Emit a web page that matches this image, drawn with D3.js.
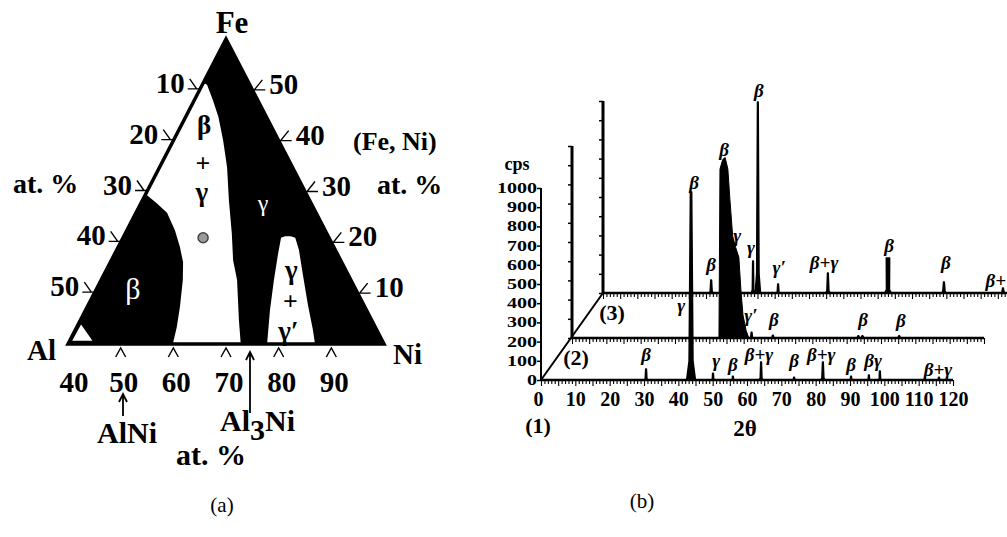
<!DOCTYPE html>
<html><head><meta charset="utf-8">
<script src="https://cdn.jsdelivr.net/npm/d3@7"></script>
<style>body{margin:0;background:#fff}svg{display:block}text{font-family:"Liberation Serif","Times New Roman",serif}</style>
</head><body><script>
// ================= DATA : (a) partial ternary diagram (n = bottom-axis at.%, f = Fe at.%) =================
const bottomTicks = [40, 50, 60, 70, 80, 90];
const leftTicks = [10, 20, 30, 40, 50];
const rightTicks = [10, 20, 30, 40, 50];
const gammaBoundary = [[40.2,51.3],[40.9,51],[43.5,48],[46.2,44.7],[49.4,40.1],[52.8,34.8],[56.4,28.3],[60.2,21.8],[63.1,16.5],[65.8,12.6],[70.1,4.7],[72.8,0]];
const gammaPrimeRegion = [[77.8,0],[75.0,6.7],[72.8,12.6],[71.1,17.5],[70.0,20.9],[70.6,21.2],[71.7,21.2],[72.7,20.9],[74.6,18.5],[77.8,13.6],[81.7,7.7],[85.1,2.8],[86.9,0]];
const betaBoundary = [[40,29.7],[40.3,29.3],[43.0,27.7],[45.9,25.8],[49.1,22.4],[51.7,19.1],[53.8,16.1],[55.5,12.6],[57.6,7.3],[59.0,3.3],[59.9,0]];
const cornerGap = [[40.3,4.3],[40.2,0.4],[44.9,0.4]];
const samplePoint = [55.2, 20.9];
const labelsOnWhite = [[44.3,43.1,"β"],[47.8,35.6,"+"],[50.4,30.0,"γ"],[75.1,14.6,"γ"],[78.0,8.5,"+"],[80.5,2.7,"γ′"]];
const labelsOnBlack = [[46.8,11.0,"β"],[63.1,27.9,"γ"]];

// ================= DATA : (b) XRD patterns =================
const twoThetaTicks = [0,10,20,30,40,50,60,70,80,90,100,110,120];
const cpsTicks = [0,100,200,300,400,500,600,700,800,900,1000];
// peaks: [2θ, cps, half base width (deg), half top width (deg)]
const s1Peaks = [[30.6,57,0.6],[43.7,980,1.3,0.2],[50.1,36,0.5],[55.9,20,0.5],[64.1,94,0.6],[73.7,15,0.5],[82.1,94,0.7],[90.3,20,0.5],[95.5,26,0.5],[98.7,47,0.5],[115.9,15,0.6]];
const s2Profile = [[42.8,0],[43.1,880],[43.9,930],[44.6,940],[45.4,880],[46.0,720],[46.8,530],[47.7,470],[48.6,420],[49.2,250],[49.8,120],[50.7,40],[51.5,0]];
const s2Peaks = [[52.3,30,0.6],[58.5,15,0.6],[83.4,12,0.9],[84.6,12,0.8],[95.3,12,0.8]];
const s3Peaks = [[31.5,68,0.7],[43.7,167,0.5],[45.1,995,0.8],[51.0,47,0.6],[65.5,104,0.7],[83.0,182,1.0,0.5],[99.3,57,0.8],[116.5,26,0.8]];
const s1Labels = [[30.6,99,"β"],[44.6,995,"β"],[40.8,354,"γ"],[51.0,68,"γ"],[55.9,47,"β"],[63.5,99,"β+γ"],[73.7,68,"β"],[81.6,99,"β+γ"],[90.3,47,"β"],[96.7,68,"βγ"],[115.6,21,"β+γ"]];
const s2Labels = [[44.3,948,"β"],[48.1,500,"γ"],[52.1,83,"γ′"],[58.8,63,"β"],[84.8,63,"β"],[95.8,57,"β"]];
const s3Labels = [[31.5,115,"β"],[43.1,203,"γ"],[45.4,1021,"β"],[51.3,99,"γ′"],[64.4,125,"β+γ"],[83.3,214,"β"],[99.9,125,"β"],[114.4,31,"β+"]];

// ================= LAYOUT =================
const W = 1007, H = 537;
const svg = d3.select("body").append("svg").attr("width", W).attr("height", H);
svg.append("rect").attr("width", W).attr("height", H).attr("fill", "#fff");

// ---------- (a) ----------
const Al = [68, 344], Ni = [384, 344], Fe = [226, 39];
const aS = d3.scaleLinear().domain([40, 100]).range([0, 1]);
const bS = d3.scaleLinear().domain([0, 60]).range([0, 1]);
const P = (n, f) => {
  const a = aS(n), b = bS(f);
  return [Al[0] + a * (Ni[0] - Al[0]) + b * (Fe[0] - Al[0]), Al[1] + b * (Fe[1] - Al[1])];
};
const tl = d3.line().x(d => P(d[0], d[1])[0]).y(d => P(d[0], d[1])[1]);
const ga = svg.append("g");

const gammaPoly = [[40, 60], [100, 0]].concat(gammaBoundary.slice().reverse()).concat([[40, gammaBoundary[0][1]]]);
ga.append("path").attr("d", tl(gammaPoly) + "Z").attr("fill", "#000");
ga.append("path").attr("d", tl(gammaPrimeRegion) + "Z").attr("fill", "#fff");
const betaPoly = betaBoundary.concat([[40, 0]]);
ga.append("path").attr("d", tl(betaPoly) + "Z").attr("fill", "#000");
ga.append("path").attr("d", tl(cornerGap) + "Z").attr("fill", "#fff").attr("stroke", "#000").attr("stroke-width", 2.5).attr("stroke-linejoin", "round");
ga.append("path").attr("d", tl([[40, 0], [40, 60], [100, 0]]) + "Z").attr("fill", "none").attr("stroke", "#000").attr("stroke-width", 3.5);
const sp = P(samplePoint[0], samplePoint[1]);
ga.append("circle").attr("cx", sp[0]).attr("cy", sp[1]).attr("r", 5).attr("fill", "#9a9a9a").attr("stroke", "#444").attr("stroke-width", 1.5);

const tickStyle = sel => sel.attr("fill", "none").attr("stroke", "#000").attr("stroke-width", 1.4);
leftTicks.forEach(v => {
  const [ex, ey] = P(40, 60 - v);
  ga.append("path").attr("d", `M${ex-10},${ey-11}L${ex-3},${ey-1}M${ex-12},${ey-1}L${ex},${ey-1}`).call(tickStyle);
  ga.append("text").attr("x", ex - 15).attr("y", ey + 3).attr("text-anchor", "end")
    .attr("font-size", 29).attr("font-weight", "bold").text(v);
});
rightTicks.forEach(v => {
  const [ex, ey] = P(100 - v, v);
  ga.append("path").attr("d", `M${ex+10},${ey-10}L${ex+2},${ey}L${ex+13},${ey}`).call(tickStyle);
  ga.append("text").attr("x", ex + 17).attr("y", ey + 4).attr("text-anchor", "start")
    .attr("font-size", 29).attr("font-weight", "bold").text(v);
});
bottomTicks.forEach(v => {
  const [ex, ey] = P(v, 0);
  if (v > 40) ga.append("path").attr("d", `M${ex-5},${ey+13}L${ex},${ey+4}L${ex+5},${ey+13}`).call(tickStyle);
  ga.append("text").attr("x", ex + (v === 40 ? 6 : 3)).attr("y", 392).attr("text-anchor", "middle")
    .attr("font-size", 29).attr("font-weight", "bold").text(v);
});
labelsOnWhite.forEach(d => {
  const [x, y] = P(d[0], d[1]);
  const plus = d[2] === "+";
  ga.append("text").attr("x", x).attr("y", y).attr("dy", "0.35em").attr("text-anchor", "middle")
    .attr("font-size", plus ? 26 : 27).attr("font-weight", "bold").attr("fill", "#000").text(d[2]);
});
labelsOnBlack.forEach((d, i) => {
  const [x, y] = P(d[0], d[1]);
  ga.append("text").attr("x", x).attr("y", y).attr("dy", "0.35em").attr("text-anchor", "middle")
    .attr("font-size", i === 0 ? 30 : 24).attr("fill", "#fff").text(d[2]);
});
const bold = (x, y, t, size, anchor) => ga.append("text").attr("x", x).attr("y", y).attr("text-anchor", anchor || "start")
  .attr("font-size", size).attr("font-weight", "bold").text(t);
bold(232, 33, "Fe", 31, "middle");
bold(27, 360, "Al", 29);
bold(393, 364, "Ni", 29);
bold(13, 193, "at. %", 28);
bold(353, 150, "(Fe, Ni)", 26);
bold(377, 194, "at. %", 28);
bold(211, 465, "at. %", 30, "middle");
bold(127, 443, "AlNi", 30, "middle");
const al3 = ga.append("text").attr("x", 220).attr("y", 431).attr("font-size", 30).attr("font-weight", "bold");
al3.append("tspan").text("Al");
al3.append("tspan").attr("dy", 9).text("3");
al3.append("tspan").attr("dy", -9).text("Ni");
const arrow = (x, y1, y2) => {
  ga.append("path").attr("d", `M${x},${y2}L${x},${y1}M${x-4},${y1+8}L${x},${y1}L${x+4},${y1+8}`).attr("fill", "none").attr("stroke", "#000").attr("stroke-width", 1.8);
};
arrow(123, 394, 416);
arrow(250, 352, 413);
svg.append("text").attr("x", 222).attr("y", 512).attr("text-anchor", "middle").attr("font-size", 21).text("(a)");

// ---------- (b) ----------
const origin = [541, 380];
const depth = [[0, 0], [31, -42], [62, -87]];
const x = d3.scaleLinear().domain([0, 120]).range([0, 412]);
const y = d3.scaleLinear().domain([0, 1000]).range([0, -192]);
const line = d3.line().x(d => x(d[0])).y(d => y(d[1]));
const peakPts = p => {
  const [c, h, w, tw] = p, t = tw || 0.12;
  return [[c - w, 0], [c - w * 0.45, h * 0.1], [c - t, h], [c + t, h], [c + w * 0.45, h * 0.1], [c + w, 0]];
};
const gb = svg.append("g");
const series = [
  {peaks: s1Peaks, labels: s1Labels},
  {peaks: s2Peaks, labels: s2Labels, profile: s2Profile},
  {peaks: s3Peaks, labels: s3Labels}
];
[2, 1, 0].forEach(i => {
  const s = series[i];
  const g = gb.append("g").attr("transform", `translate(${origin[0] + depth[i][0]},${origin[1] + depth[i][1]})`);
  const ax = g.append("g").call(d3.axisBottom(x).tickValues(d3.range(0, 121, 1)).tickSize(4).tickFormat(""));
  ax.select(".domain").remove();
  ax.selectAll("line").attr("stroke", "#000").attr("stroke-width", 1.1).attr("y2", d => d % 5 === 0 ? 6 : 4);
  const ay = g.append("g").call(d3.axisLeft(y).tickValues(cpsTicks).tickSize(4).tickFormat(i === 0 ? (d => d) : ""));
  ay.select(".domain").remove();
  ay.selectAll("line").attr("stroke", "#000").attr("stroke-width", 1.5);
  g.append("line").attr("x1", 0).attr("x2", 0).attr("y1", y(0)).attr("y2", y(1000)).attr("stroke", "#000").attr("stroke-width", i === 0 ? 2 : 3);
  if (i === 0) {
    ay.selectAll("text").attr("font-family", "Liberation Serif").attr("font-size", 14).attr("font-weight", "bold")
      .attr("fill", "#000").attr("x", -4)
      .attr("textLength", d => String(d).length * 10).attr("lengthAdjust", "spacingAndGlyphs");
  }
  g.append("line").attr("x1", 0).attr("x2", x(120)).attr("y1", 0).attr("y2", 0).attr("stroke", "#000").attr("stroke-width", 2.5);
  if (s.profile) g.append("path").attr("d", line(s.profile) + "Z").attr("fill", "#000").attr("stroke", "#000").attr("stroke-width", 1);
  s.peaks.forEach(p => g.append("path").attr("d", line(peakPts(p)) + "Z").attr("fill", "#000").attr("stroke", "#000").attr("stroke-width", 1.4).attr("stroke-linejoin", "round"));
  s.labels.forEach(l => g.append("text").attr("x", x(l[0])).attr("y", y(l[1])).attr("text-anchor", "middle")
    .attr("font-size", 19).attr("font-weight", "bold").attr("font-style", "italic").text(l[2]));
  if (i === 0) {
    const axl = g.append("g").call(d3.axisBottom(x).tickValues(twoThetaTicks).tickSize(0).tickPadding(12));
    axl.select(".domain").remove();
    axl.selectAll("text").attr("font-family", "Liberation Serif").attr("font-size", 20).attr("font-weight", "bold").attr("fill", "#000")
      .attr("dx", d => d === 0 ? -3 : 0);
  }
});
gb.append("line").attr("x1", origin[0]).attr("y1", origin[1]).attr("x2", origin[0] + depth[2][0]).attr("y2", origin[1] + depth[2][1])
  .attr("stroke", "#000").attr("stroke-width", 2);
const bb = (xx, yy, t, size, anchor) => gb.append("text").attr("x", xx).attr("y", yy).attr("text-anchor", anchor || "middle")
  .attr("font-size", size).attr("font-weight", "bold").text(t);
bb(517, 170, "cps", 18);
bb(612, 320, "(3)", 22);
bb(576, 365, "(2)", 22);
bb(538, 433, "(1)", 22);
bb(745, 436, "2θ", 23);
svg.append("text").attr("x", 642).attr("y", 508).attr("text-anchor", "middle").attr("font-size", 21).text("(b)");
</script></body></html>
